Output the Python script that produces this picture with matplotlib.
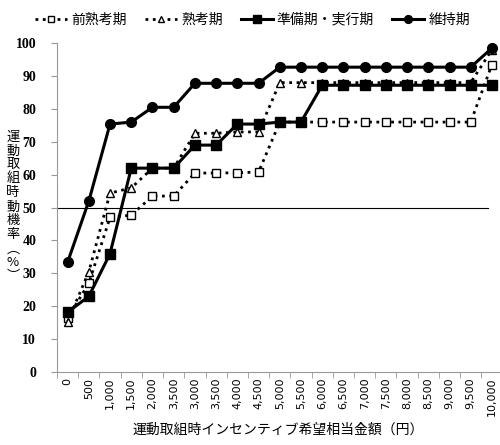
import matplotlib
matplotlib.use("Agg")
import matplotlib.pyplot as plt
import numpy as np

plt.rcParams['font.family'] = ['Noto Sans CJK JP', 'DejaVu Sans']

# x categories (yen) - labels kept as printed in the original
x_labels = ["0", "500", "1,000", "1,500", "2,000", "3,500", "3,000", "3,500",
            "4,000", "4,500", "5,000", "5,500", "6,000", "6,500", "7,000",
            "7,500", "8,000", "8,500", "9,000", "9,500", "10,000"]

# motivation rate (%) per stage
pre_contemplation = [16.4, 27, 47, 47.7, 53.5, 53.5, 60.5, 60.5, 60.6, 60.8,
                     76, 76, 76, 76, 76, 76, 76, 76, 76, 76, 93.5]
contemplation = [15.3, 30.5, 54.4, 56, 62, 62, 72.6, 72.6, 73, 73,
                 88, 88, 88, 88, 88, 88, 88, 88, 88, 88, 98]
preparation = [18.2, 23, 36, 62, 62, 62, 69, 69, 75.4, 75.4,
               76, 76, 87.2, 87.2, 87.2, 87.2, 87.2, 87.2, 87.2, 87.2, 87.2]
maintenance = [33.4, 52, 75.4, 76, 80.5, 80.5, 87.8, 87.8, 87.8, 87.8,
               92.7, 92.7, 92.7, 92.7, 92.7, 92.7, 92.7, 92.7, 92.7, 92.7, 98.5]

series_names = ["前熟考期", "熟考期", "準備期・実行期", "維持期"]

x = np.arange(len(x_labels))

fig = plt.figure(figsize=(5, 4.45), dpi=100)
ax = fig.add_axes([0.114, 0.164, 0.886, 0.739])

ax.plot(x, pre_contemplation, linestyle=':', color='black', lw=2,
        marker='s', ms=6, mfc='white', mec='black', mew=1, label=series_names[0])
ax.plot(x, contemplation, linestyle=':', color='black', lw=2,
        marker='^', ms=6, mfc='white', mec='black', mew=1, label=series_names[1])
ax.plot(x, preparation, linestyle='-', color='black', lw=2.2,
        marker='s', ms=7, mfc='black', mec='black', label=series_names[2])
ax.plot(x, maintenance, linestyle='-', color='black', lw=2.2,
        marker='o', ms=7, mfc='black', mec='black', label=series_names[3])

ax.axhline(50, xmin=0, xmax=0.973, color='black', lw=0.8, zorder=0)

ax.set_xlim(-0.42, 20.38)
ax.set_ylim(0, 100)
ax.set_yticks(range(0, 101, 10))
ax.set_xticks(x)
ax.set_xticklabels(x_labels, rotation=90)
ax.set_xticks(np.arange(-0.5, 20.5, 1), minor=True)
ax.tick_params(axis='x', which='major', length=0, pad=4)
ax.tick_params(axis='x', which='minor', length=4, color='#999999')
ax.tick_params(axis='y', length=4, color='#999999', pad=11)

for lab in ax.get_yticklabels():
    lab.set_fontfamily('Liberation Serif')
    lab.set_fontweight('bold')
    lab.set_fontsize(10)
for lab in ax.get_xticklabels():
    lab.set_fontfamily('DejaVu Sans')
    lab.set_fontsize(8)

for s in ['top', 'right']:
    ax.spines[s].set_visible(False)
for s in ['left', 'bottom']:
    ax.spines[s].set_color('#999999')

ax.set_xlabel("運動取組時インセンティブ希望相当金額（円）", fontsize=10, labelpad=5)

fig.text(0.026, 0.535, "\n".join("運動取組時動機率") + "\n︵\n%\n︶",
         ha='center', va='center', fontsize=9.5, linespacing=1.1)

fig.legend(loc='upper center', bbox_to_anchor=(0.505, 1.0), ncol=4, frameon=False,
           fontsize=10, handlelength=2.3, columnspacing=1.3, handletextpad=0.3,
           markerscale=0.8)

fig.savefig("out.png", dpi=100)
